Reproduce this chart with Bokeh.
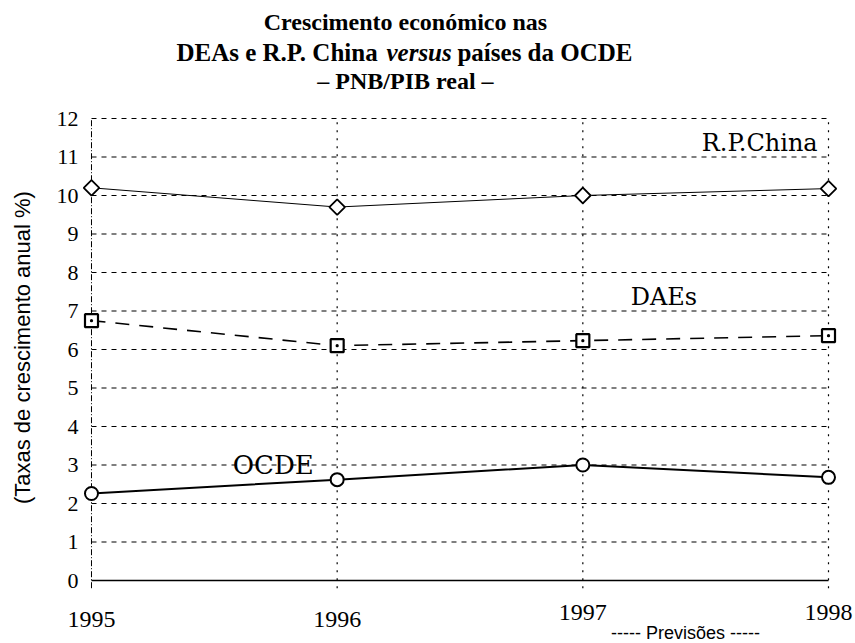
import math
from bokeh.plotting import figure
from bokeh.models import Label, Range1d
from bokeh.core.properties import value
from bokeh.embed import file_html
from bokeh.resources import INLINE

# ---- data ----
years = [1995, 1996, 1997, 1998]
china = [10.2, 9.7, 10.0, 10.18]
daes = [6.75, 6.1, 6.23, 6.36]
ocde = [2.26, 2.62, 3.0, 2.68]
y_ticks = list(range(0, 13))
x_tick_labels = ["1995", "1996", "1997", "1998"]
title_line1 = "Crescimento económico nas"
title_line2 = ["DEAs e R.P. China", "versus", "países da OCDE"]
title_line3 = "– PNB/PIB real –"
y_axis_title = "(Taxas de crescimento anual %)"
forecast_text = "----- Previsões -----"
name_china = "R.P.China"
name_daes = "DAEs"
name_ocde = "OCDE"

SERIF = "Liberation Serif"
SANS = "Liberation Sans"
LBL = "DejaVu Serif"

# whole canvas is the plotting frame, so that outer texts are not clipped
p = figure(width=855, height=643, min_border=0,
           x_range=Range1d(1994.6296, 1998.1099), y_range=Range1d(-1.636, 15.065),
           output_backend="svg", toolbar_location=None,
           background_fill_color="white", border_fill_color="white")
p.outline_line_color = None
p.axis.visible = False
p.grid.visible = False

# gridlines
gy = y_ticks[1:]
p.segment(x0=[years[0]] * len(gy), x1=[years[-1]] * len(gy), y0=gy, y1=gy,
          line_color="black", line_width=1.2, line_dash="5 5")
p.segment(x0=[years[0]], x1=[years[-1]], y0=[y_ticks[0]], y1=[y_ticks[0]],
          line_color="black", line_width=1.3)
p.segment(x0=[years[0]], x1=[years[0]], y0=[-0.2], y1=[y_ticks[-1]],
          line_color="black", line_width=1, line_dash="6 2 1 2")
vx = years[1:]
p.segment(x0=vx, x1=vx, y0=[-0.2] * len(vx), y1=[y_ticks[-1]] * len(vx),
          line_color="black", line_width=1.2, line_dash="2 6")

# tick labels (through the figure's scales)
p.text(x=[1994.947] * len(y_ticks), y=y_ticks, text=[str(t) for t in y_ticks],
       text_align="right", text_baseline="middle", text_font=value(SERIF),
       text_font_size="22px", text_color="black")
x_label_pos = [-1.01, -1.01, -0.83, -0.83]
p.text(x=years, y=x_label_pos, text=x_tick_labels,
       text_align="center", text_baseline="middle", text_font=value(SERIF),
       text_font_size="24px", text_color="black")
p.text(x=[1994.719], y=[6.05], text=[y_axis_title], angle=math.pi / 2,
       text_align="center", text_baseline="middle", text_font=value(SANS),
       text_font_size="22px", text_color="black")

# series
p.line(years, china, line_color="black", line_width=1)
p.scatter(years, china, marker="square", angle=math.pi / 4, size=11,
          fill_color="white", line_color="black", line_width=1.8)

p.line(years, daes, line_color="black", line_width=1.6, line_dash="14 10")
p.scatter(years, daes, marker="square_dot", size=13, fill_color="white",
          line_color="black", line_width=2.2)

p.line(years, ocde, line_color="black", line_width=2)
p.scatter(years, ocde, marker="circle", size=13, fill_color="white",
          line_color="black", line_width=2)

# series labels
p.add_layout(Label(x=1997.72, y=11.0, text=name_china, text_align="center",
                   text_baseline="bottom", text_font=LBL, text_font_size="24px",
                   text_color="black"))
p.add_layout(Label(x=1997.33, y=7.0, text=name_daes, text_align="center",
                   text_baseline="bottom", text_font=LBL, text_font_size="24px",
                   text_color="black"))
p.add_layout(Label(x=1995.74, y=3.0, text=name_ocde, text_align="center",
                   text_baseline="middle", text_font=LBL, text_font_size="26px",
                   text_color="black"))

# forecast note
p.add_layout(Label(x=1997.418, y=-1.36, text=forecast_text, text_align="center",
                   text_baseline="middle", text_font=SANS, text_font_size="18px",
                   text_color="black"))

# title
tx = 1996.278
p.add_layout(Label(x=tx, y=14.5, text=title_line1, text_align="center",
                   text_baseline="middle", text_font=SERIF, text_font_size="24px",
                   text_font_style="bold", text_color="black"))
offs = [-229, -19, 52]
styles = ["bold", "bold italic", "bold"]
for t, o, s in zip(title_line2, offs, styles):
    p.add_layout(Label(x=tx, y=13.72, x_offset=o, text=t, text_align="left",
                       text_baseline="middle", text_font=SERIF, text_font_size="25px",
                       text_font_style=s, text_color="black"))
p.add_layout(Label(x=tx, y=12.965, text=title_line3, text_align="center",
                   text_baseline="middle", text_font=SERIF, text_font_size="24px",
                   text_font_style="bold", text_color="black"))

open("out.html", "w").write(file_html(p, INLINE))
